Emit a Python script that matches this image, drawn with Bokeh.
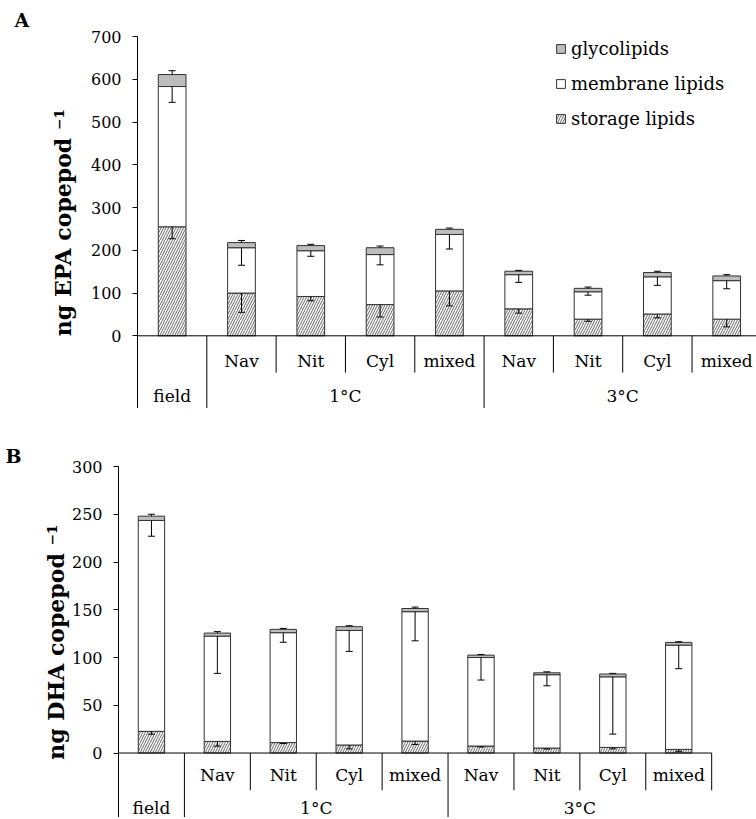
import numpy as np
from bokeh.plotting import figure
from bokeh.models import (Range1d, FixedTicker, Legend, LegendItem, Whisker,
                          TeeHead, ColumnDataSource, Title)
from bokeh.embed import file_html
from bokeh.resources import INLINE
from bokeh.core.properties import value

# ---------------- data ----------------
sub_labels = ["", "Nav", "Nit", "Cyl", "mixed", "Nav", "Nit", "Cyl", "mixed"]
group_labels = ["field", "1°C", "3°C"]
group_start = [0, 1, 5]
group_end = [1, 5, 9]
series_names = ["glycolipids", "membrane lipids", "storage lipids"]

epa_storage = [255, 100, 92, 73, 105, 63, 39, 51, 39]
epa_membrane = [328, 106, 107, 117, 132, 80, 64, 87, 90]
epa_glyco = [28, 12, 12, 16, 12, 8, 8, 10, 11]
epa_storage_err = [28, 45, 10, 29, 35, 10, 5, 9, 18]
epa_membrane_err = [37, 41, 13, 24, 34, 18, 8, 20, 19]
epa_glyco_err = [9, 5, 3, 4, 3, 2, 3, 3, 3]
epa_ticks = [0, 100, 200, 300, 400, 500, 600, 700]

dha_storage = [22.7, 12.2, 10.9, 8.4, 12.5, 7.3, 5.2, 5.9, 3.8]
dha_membrane = [220.8, 110.2, 115.1, 120.0, 135.5, 92.7, 76.8, 73.9, 109.2]
dha_glyco = [4.5, 3.2, 3.5, 3.9, 3.3, 2.5, 2.0, 2.9, 2.8]
dha_storage_err = [3, 5, 1, 4, 3.5, 1, 1, 1.5, 2]
dha_membrane_err = [16.5, 39, 10, 22, 30.5, 23.6, 11.6, 60, 24.7]
dha_glyco_err = [2, 1.5, 1, 1, 1.5, 0.7, 1, 0.7, 0.7]
dha_ticks = [0, 50, 100, 150, 200, 250, 300]

FONT = "DejaVu Serif"
GLYCO_FILL = "#bdbdbd"
EDGE = "#333333"


def make_panel(letter, letter_offset, letter_standoff, ylabel, storage,
               membrane, glyco, s_err, m_err, g_err, ticks, ymin, xmax,
               border_left, border_top, frame_h, sub_y, short_y, group_y,
               label_standoff, with_legend=False):
    n = len(sub_labels)
    x = np.arange(n) + 0.5
    s_top = np.array(storage, dtype=float)
    m_top = s_top + np.array(membrane, dtype=float)
    g_top = m_top + np.array(glyco, dtype=float)
    src = ColumnDataSource(dict(
        x=x, zero=np.zeros(n), s_top=s_top, m_top=m_top, g_top=g_top,
        s_lo=s_top - np.array(s_err), m_lo=m_top - np.array(m_err),
        g_hi=g_top + np.array(g_err)))

    title = Title(text=letter, align="left", offset=letter_offset,
                  text_font=FONT, text_font_style="bold",
                  text_font_size="19px", text_color="black",
                  standoff=letter_standoff)
    p = figure(width=756, height=border_top + frame_h,
               x_range=Range1d(0, xmax), y_range=Range1d(ymin, ticks[-1]),
               output_backend="svg", toolbar_location=None,
               x_axis_location=None, title=title,
               min_border_left=border_left, min_border_right=0,
               min_border_top=border_top, min_border_bottom=0)
    p.grid.visible = False
    p.outline_line_color = None
    p.background_fill_color = "white"

    r_s = p.vbar(x="x", bottom="zero", top="s_top", width=0.4, source=src,
                 fill_color="white", line_color=EDGE, line_width=1,
                 hatch_pattern="right_diagonal_line", hatch_color="#555555",
                 hatch_scale=5, hatch_weight=0.9)
    r_m = p.vbar(x="x", bottom="s_top", top="m_top", width=0.4, source=src,
                 fill_color="white", line_color=EDGE, line_width=1)
    r_g = p.vbar(x="x", bottom="m_top", top="g_top", width=0.4, source=src,
                 fill_color=GLYCO_FILL, line_color=EDGE, line_width=1)

    for up, lo, head_up in (("s_top", "s_lo", False), ("m_top", "m_lo", False),
                            ("g_hi", "g_top", True)):
        w = Whisker(source=src, base="x", upper=up, lower=lo,
                    dimension="height", line_color="black", line_width=1,
                    level="overlay")
        if head_up:
            w.upper_head = TeeHead(size=7, line_color="black", line_width=1)
            w.lower_head = None
        else:
            w.lower_head = TeeHead(size=7, line_color="black", line_width=1)
            w.upper_head = None
        p.add_layout(w)

    # category axis drawn by hand
    p.segment(x0=[0], y0=[0], x1=[n], y1=[0], line_color="black", line_width=1)
    bounds = np.arange(1, n + 1)
    long_b = [b for b in bounds if b in group_start]
    short_b = [b for b in bounds if b not in group_start]
    p.segment(x0=short_b, y0=[0] * len(short_b), x1=short_b,
              y1=[short_y] * len(short_b), line_color="black", line_width=1)
    p.segment(x0=long_b, y0=[0] * len(long_b), x1=long_b,
              y1=[ymin] * len(long_b), line_color="black", line_width=1)
    p.text(x=x, y=[sub_y] * n, text=sub_labels, text_font=value(FONT),
           text_font_size=value("17px"), text_align="center",
           text_baseline="middle", text_color="black")
    gx = [(a + b) / 2 for a, b in zip(group_start, group_end)]
    p.text(x=gx, y=[group_y] * len(gx), text=group_labels,
           text_font=value(FONT), text_font_size=value("17px"),
           text_align="center", text_baseline="middle", text_color="black")

    ax = p.yaxis[0]
    ax.ticker = FixedTicker(ticks=ticks)
    ax.minor_tick_line_color = None
    ax.major_tick_in = 0
    ax.major_tick_out = 5
    ax.major_label_standoff = 11
    ax.major_label_text_font = FONT
    ax.major_label_text_font_size = "16px"
    ax.major_label_text_color = "black"
    ax.axis_line_color = "black"
    ax.major_tick_line_color = "black"
    ax.axis_label = ylabel
    ax.axis_label_text_font = FONT
    ax.axis_label_text_font_style = "bold"
    ax.axis_label_text_font_size = "22px"
    ax.axis_label_text_color = "black"
    ax.axis_label_standoff = label_standoff

    if with_legend:
        items = [LegendItem(label=series_names[0], renderers=[r_g]),
                 LegendItem(label=series_names[1], renderers=[r_m]),
                 LegendItem(label=series_names[2], renderers=[r_s])]
        lg = Legend(items=items, location=(418, 279), glyph_width=11,
                    glyph_height=11, label_text_font=FONT,
                    label_text_font_size="18px", label_text_color="black",
                    label_standoff=5, spacing=14, padding=0, margin=0,
                    label_height=20, border_line_color=None,
                    background_fill_alpha=0)
        p.add_layout(lg)
    return p


pa = make_panel("A", -123, 12, "ng EPA copepod \u207b\u00b9",
                epa_storage, epa_membrane, epa_glyco,
                epa_storage_err, epa_membrane_err, epa_glyco_err,
                epa_ticks, ymin=-170, xmax=8.93, border_left=137,
                border_top=36, frame_h=372, sub_y=-60, short_y=-86,
                group_y=-140, label_standoff=12, with_legend=True)

pb = make_panel("B", -113, 0, "ng DHA copepod \u207b\u00b9",
                dha_storage, dha_membrane, dha_glyco,
                dha_storage_err, dha_membrane_err, dha_glyco_err,
                dha_ticks, ymin=-67.5, xmax=9.68, border_left=118,
                border_top=58, frame_h=351, sub_y=-23.5, short_y=-39,
                group_y=-58, label_standoff=0)

open("out.html", "w").write(file_html([pa, pb], INLINE))
